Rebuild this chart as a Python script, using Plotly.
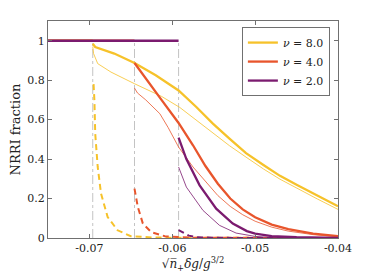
import plotly.graph_objects as go

# ---- data ----
x_ticks = [-0.07, -0.06, -0.05, -0.04]
x_ticktext = ["-0.07", "-0.06", "-0.05", "-0.04"]
y_ticks = [0, 0.2, 0.4, 0.6, 0.8, 1]
y_ticktext = ["0", "0.2", "0.4", "0.6", "0.8", "1"]

x_start = -0.075
transitions = [-0.0696, -0.06456, -0.05924]

y8_thick_x = [-0.0696, -0.0693, -0.067, -0.06456, -0.062, -0.05924, -0.0571, -0.0551,
              -0.0531, -0.0511, -0.049, -0.047, -0.045, -0.0425, -0.04]
y8_thick_y = [0.985, 0.968, 0.935, 0.887, 0.825, 0.748, 0.664, 0.58, 0.504, 0.43, 0.37, 0.315,
              0.27, 0.215, 0.161]
y8_thin_x = [-0.0696, -0.0695, -0.069, -0.0674, -0.06456, -0.0613, -0.0591, -0.0571, -0.0551, -0.0531,
             -0.0511, -0.049, -0.047, -0.045, -0.0425, -0.04]
y8_thin_y = [0.97, 0.935, 0.884, 0.841, 0.782, 0.718, 0.662, 0.596, 0.53, 0.468, 0.41, 0.35, 0.298,
             0.252, 0.198, 0.145]
y8_dash_x = [-0.0695, -0.0694, -0.0693, -0.069, -0.0686, -0.0678, -0.0666, -0.065, -0.062, -0.058, -0.05, -0.04]
y8_dash_y = [0.78, 0.698, 0.529, 0.36, 0.225, 0.106, 0.039, 0.009, 0.002, 0.001, 0, 0]

y4_thick_x = [-0.06456, -0.063, -0.0613, -0.05924, -0.0575, -0.056, -0.0545, -0.053,
              -0.0515, -0.05, -0.048, -0.046, -0.043, -0.04]
y4_thick_y = [0.887, 0.80, 0.70, 0.583, 0.47, 0.365, 0.275, 0.2, 0.145, 0.105, 0.068, 0.045, 0.022, 0.009]
y4_thin_x = [-0.06456, -0.0642, -0.0632, -0.0615, -0.0605, -0.05924, -0.0575, -0.056, -0.0545, -0.053,
             -0.0515, -0.05, -0.048, -0.046, -0.043, -0.04]
y4_thin_y = [0.76, 0.735, 0.70, 0.63, 0.56, 0.461, 0.36, 0.285, 0.215, 0.16, 0.118, 0.085, 0.055, 0.035,
             0.017, 0.006]
y4_dash_x = [-0.06456, -0.06416, -0.06355, -0.06254, -0.0609, -0.058, -0.055, -0.05, -0.04]
y4_dash_y = [0.25, 0.157, 0.073, 0.03, 0.009, 0.002, 0.001, 0, 0]

y2_thick_x = [-0.05924, -0.0583, -0.0567, -0.0547, -0.0527, -0.051, -0.05, -0.048, -0.045, -0.04]
y2_thick_y = [0.509, 0.40, 0.267, 0.149, 0.073, 0.035, 0.022, 0.01, 0.004, 0.001]
y2_thin_x = [-0.05924, -0.0583, -0.0563, -0.0543, -0.0523, -0.05, -0.048, -0.045, -0.04]
y2_thin_y = [0.36, 0.258, 0.14, 0.064, 0.025, 0.008, 0.003, 0.001, 0]
y2_dash_x = [-0.05924, -0.0585, -0.058, -0.057, -0.055, -0.05, -0.04]
y2_dash_y = [0.04, 0.022, 0.012, 0.004, 0.001, 0, 0]

names = ["<i>ν</i> = 8.0", "<i>ν</i> = 4.0", "<i>ν</i> = 2.0"]
colors = ["#F6C22A", "#E8552C", "#7B1B6F"]

FONT = "DejaVu Serif"

fig = go.Figure()

# vertical transition lines
for xv in transitions:
    fig.add_trace(go.Scatter(x=[xv, xv], y=[0, 1], mode="lines",
                             line=dict(color="#b4b4b4", width=0.8, dash="dashdot"),
                             showlegend=False, hoverinfo="skip"))

series = [
    (y8_thick_x, y8_thick_y, y8_thin_x, y8_thin_y, y8_dash_x, y8_dash_y),
    (y4_thick_x, y4_thick_y, y4_thin_x, y4_thin_y, y4_dash_x, y4_dash_y),
    (y2_thick_x, y2_thick_y, y2_thin_x, y2_thin_y, y2_dash_x, y2_dash_y),
]

for (tx, ty, nx, ny, dx, dy), c in zip(series, colors):
    fig.add_trace(go.Scatter(x=dx, y=dy, mode="lines",
                             line=dict(color=c, width=2, dash="6px,4px"), showlegend=False))
for (tx, ty, nx, ny, dx, dy), c in zip(series, colors):
    fig.add_trace(go.Scatter(x=nx, y=ny, mode="lines",
                             line=dict(color=c, width=0.8), showlegend=False))
for (tx, ty, nx, ny, dx, dy), c, n in zip(series, colors, names):
    fig.add_trace(go.Scatter(x=tx, y=ty, mode="lines", name=n,
                             line=dict(color=c, width=2.3), showlegend=True))
# flat NRRI = 1 segments before each transition
for xt, c in zip(transitions, colors):
    fig.add_trace(go.Scatter(x=[x_start, xt], y=[1, 1], mode="lines",
                             line=dict(color=c, width=2.3), showlegend=False))

axis_common = dict(showline=True, linecolor="#707070", linewidth=1, mirror="ticks",
                   ticks="inside", ticklen=4, tickcolor="#707070", showgrid=False,
                   zeroline=False, automargin=False,
                   tickfont=dict(family=FONT, size=11, color="#222"))

fig.update_layout(
    width=374, height=280,
    margin=dict(l=40, r=44, t=13, b=50),
    paper_bgcolor="white", plot_bgcolor="white",
    font=dict(family=FONT, color="#222"),
    xaxis=dict(range=[-0.075, -0.04], tickvals=x_ticks, ticktext=x_ticktext,
               title=dict(text="√<i>n̅</i><sub>+</sub><i>δg</i>/<i>g</i><sup>3/2</sup>",
                          font=dict(family=FONT, size=12), standoff=0),
               **axis_common),
    yaxis=dict(range=[0, 1.1], tickvals=y_ticks, ticktext=y_ticktext,
               title=dict(text="NRRI fraction", font=dict(family=FONT, size=13), standoff=6),
               **axis_common),
    legend=dict(x=0.972, y=0.972, xanchor="right", yanchor="top",
                bgcolor="white", bordercolor="#707070", borderwidth=1,
                font=dict(family=FONT, size=11, color="#222"),
                itemwidth=30, tracegroupgap=0),
    showlegend=True,
)

fig.write_html("out.html")
